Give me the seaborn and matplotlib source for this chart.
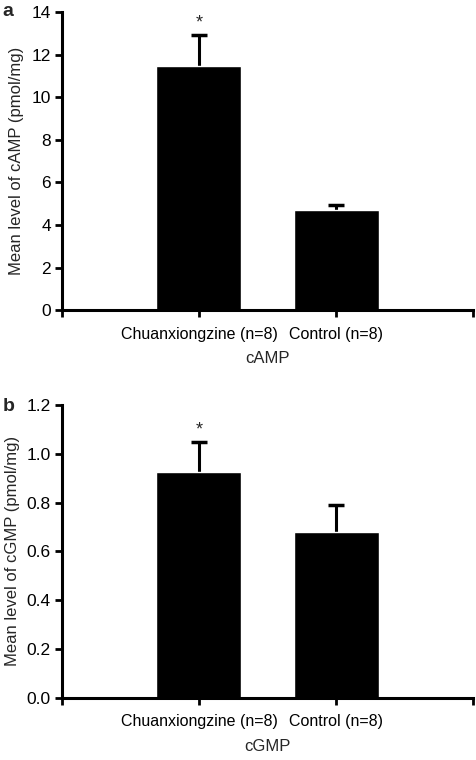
import matplotlib
matplotlib.use('Agg')
import pandas as pd
import seaborn as sns
import matplotlib.pyplot as plt

groups = ['Chuanxiongzine (n=8)', 'Control (n=8)']
camp_mean = [11.45, 4.70]
camp_sem = [1.50, 0.25]
gmp_mean = [0.925, 0.68]
gmp_sem = [0.125, 0.11]
stars = ['*', '']

sns.set_theme(style='white')
plt.rcParams['font.family'] = ['Liberation Sans', 'DejaVu Sans']
plt.rcParams['font.size'] = 12

def draw_panel(ax, means, sems, ylim, yticks, fmt, ylabel, xlabel):
	df = pd.DataFrame({'group': groups, 'value': means})
	sns.barplot(data=df, x='group', y='value', order=groups, color='black',
		width=0.62, saturation=1, errorbar=None, ax=ax, zorder=2)
	xs = [p.get_x() + p.get_width() / 2 for p in ax.patches]
	# lower error is zero; its cap is hidden behind the bar
	ax.errorbar(xs, means, yerr=[sems, sems], fmt='none',
		ecolor='black', elinewidth=2.2, capsize=6, capthick=2.5, zorder=1)
	for x, m, s, st in zip(xs, means, sems, stars):
		if st:
			ax.text(x, m + s + (ylim[1] - ylim[0]) * 0.01, st, ha='center', va='bottom', fontsize=13)
	ax.set_xlim(-1, 2)
	ax.set_ylim(*ylim)
	ax.set_xticks([-1, 0, 1, 2])
	ax.set_xticklabels(['', groups[0], groups[1], ''])
	ax.set_yticks(yticks)
	ax.set_yticklabels([fmt.format(t) for t in yticks])
	ax.set_ylabel(ylabel, fontsize=12, labelpad=5)
	ax.set_xlabel(xlabel, fontsize=12, labelpad=7)
	for side in ['top', 'right']:
		ax.spines[side].set_visible(False)
	for side in ['left', 'bottom']:
		ax.spines[side].set_linewidth(2.2)
		ax.spines[side].set_color('black')
		ax.spines[side].set_zorder(3)
	ax.tick_params(axis='both', direction='out', length=5, width=2, color='black',
		labelsize=12.5, labelcolor='black', bottom=True, left=True)
	ax.tick_params(axis='x', labelsize=11.5)
	ax.tick_params(axis='y', pad=3)
	ax.tick_params(axis='x', pad=7)
	ax.set_facecolor('white')

fig = plt.figure(figsize=(4.76, 7.6), dpi=100)
ax1 = fig.add_axes([0.130, 0.592, 0.864, 0.392])
ax2 = fig.add_axes([0.130, 0.082, 0.864, 0.385])

draw_panel(ax1, camp_mean, camp_sem, (0, 14), [0, 2, 4, 6, 8, 10, 12, 14], '{:.0f}',
	'Mean level of cAMP (pmol/mg)', 'cAMP')
draw_panel(ax2, gmp_mean, gmp_sem, (0, 1.2), [0.0, 0.2, 0.4, 0.6, 0.8, 1.0, 1.2], '{:.1f}',
	'Mean level of cGMP (pmol/mg)', 'cGMP')

fig.text(0.006, 0.985, 'a', fontsize=14, fontweight='bold', va='center')
fig.text(0.006, 0.465, 'b', fontsize=14, fontweight='bold', va='center')

fig.savefig('out.png', dpi=100)
plt.close()
